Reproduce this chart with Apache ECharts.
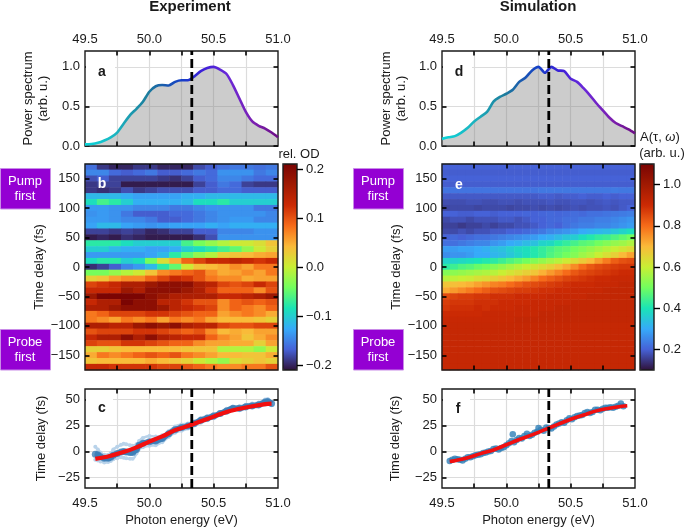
<!DOCTYPE html>
<html><head><meta charset="utf-8">
<script src="https://cdn.jsdelivr.net/npm/echarts@6/dist/echarts.min.js"></script>
<style>html,body{margin:0;padding:0;background:#fff}#c{width:685px;height:528px}</style></head>
<body><div id="c"></div>
<script>
const FONT = '"Liberation Sans", Arial, sans-serif';
const TURBO = ['#30123b','#4662d7','#36aaf9','#1ae4b6','#72fe5e','#c8ef34','#faba39','#f66b19','#cb2a04','#a01a02','#7a0403'];
const delays = [170,160,150,140,130,120,110,100,90,80,70,60,50,40,30,20,10,0,-10,-20,-30,-40,-50,-60,-70,-80,-90,-100,-110,-120,-130,-140,-150,-160,-170];
const expEnergies = [49.55,49.64,49.73,49.83,49.92,50.02,50.11,50.20,50.30,50.39,50.48,50.58,50.67,50.77,50.86,50.95];
const simEnergies = [49.53,49.59,49.66,49.72,49.78,49.84,49.91,49.97,50.03,50.09,50.16,50.22,50.28,50.34,50.41,50.47,50.53,50.59,50.66,50.72,50.78,50.84,50.91,50.97];
const expMap = [
[-.16,-.19,-.20,-.20,-.19,-.19,-.20,-.20,-.20,-.18,-.17,-.16,-.155,-.155,-.16,-.155],
[-.147,-.147,-.163,-.17,-.163,-.155,-.17,-.17,-.163,-.155,-.163,-.14,-.14,-.14,-.155,-.147],
[-.178,-.17,-.185,-.185,-.185,-.185,-.19,-.195,-.185,-.17,-.163,-.147,-.147,-.155,-.163,-.163],
[-.19,-.185,-.185,-.205,-.205,-.205,-.205,-.205,-.205,-.185,-.17,-.155,-.163,-.185,-.19,-.19],
[-.19,-.195,-.19,-.178,-.19,-.185,-.178,-.178,-.178,-.17,-.17,-.163,-.163,-.17,-.17,-.17],
[-.115,-.115,-.115,-.122,-.13,-.13,-.13,-.13,-.122,-.122,-.115,-.115,-.115,-.115,-.115,-.115],
[-.088,-.063,-.076,-.1,-.122,-.122,-.122,-.122,-.115,-.088,-.088,-.076,-.1,-.1,-.1,-.1],
[-.135,-.135,-.14,-.14,-.147,-.147,-.147,-.155,-.155,-.147,-.14,-.14,-.14,-.14,-.155,-.155],
[-.14,-.135,-.14,-.155,-.17,-.17,-.17,-.163,-.163,-.155,-.147,-.14,-.14,-.14,-.14,-.147],
[-.135,-.135,-.14,-.147,-.147,-.155,-.17,-.17,-.163,-.155,-.147,-.14,-.135,-.135,-.147,-.147],
[-.13,-.115,-.115,-.13,-.135,-.14,-.135,-.13,-.13,-.13,-.122,-.13,-.122,-.122,-.122,-.122],
[-.185,-.185,-.19,-.185,-.19,-.2,-.195,-.185,-.185,-.17,-.17,-.147,-.147,-.147,-.14,-.14],
[-.205,-.2,-.205,-.195,-.2,-.205,-.205,-.205,-.205,-.195,-.178,-.14,-.14,-.14,-.14,-.14],
[-.076,-.076,-.076,-.088,-.1,-.1,-.1,-.1,-.063,-.04,-.025,-.01,.005,.005,.015,.035],
[-.1,-.1,-.115,-.122,-.122,-.13,-.13,-.122,-.1,-.088,-.076,-.063,-.05,-.025,.005,.025],
[-.135,-.135,-.135,-.135,-.135,-.13,-.115,-.076,-.05,-.025,-.01,.025,.035,.042,.05,.055],
[-.088,-.076,-.076,-.1,-.088,-.04,.015,.05,.09,.11,.132,.132,.143,.132,.12,.132],
[-.195,-.185,-.17,-.147,-.135,-.115,-.076,-.05,.005,.035,.042,.05,.067,.055,.078,.078],
[-.04,-.04,-.025,-.01,.005,.035,.067,.078,.09,.1,.067,.05,.055,.067,.055,.078],
[.025,.035,.055,.067,.067,.09,.11,.132,.12,.1,.078,.067,.067,.05,.055,.055],
[.11,.12,.132,.155,.155,.173,.19,.19,.19,.155,.143,.11,.1,.11,.132,.11],
[.132,.132,.132,.173,.155,.19,.19,.19,.173,.155,.12,.09,.09,.09,.067,.1],
[.173,.21,.21,.21,.21,.19,.173,.155,.155,.155,.155,.132,.132,.143,.155,.173],
[.132,.155,.155,.21,.19,.19,.143,.143,.12,.1,.1,.067,.09,.1,.09,.1],
[.155,.155,.173,.19,.19,.19,.173,.143,.132,.12,.11,.067,.09,.078,.067,.09],
[.078,.09,.11,.11,.11,.12,.12,.11,.1,.09,.09,.055,.067,.078,.067,.05],
[.078,.067,.055,.078,.067,.078,.055,.078,.067,.078,.055,.042,.042,.042,.035,.025],
[.155,.155,.143,.143,.173,.19,.173,.19,.155,.143,.143,.11,.1,.1,.11,.11],
[.1,.11,.11,.11,.12,.12,.11,.1,.09,.1,.067,.042,.05,.042,.055,.055],
[.132,.155,.155,.19,.155,.19,.155,.143,.132,.132,.09,.067,.055,.035,.05,.067],
[.11,.1,.1,.12,.12,.11,.1,.09,.09,.067,.055,.055,.05,.05,.025,.055],
[.025,.025,.035,.042,.042,.042,.042,.042,.035,.035,.035,-.01,-.01,-.01,-.025,.005],
[.05,.078,.067,.078,.09,.1,.09,.1,.078,.067,.055,.042,.042,.035,.035,.05],
[.035,.042,.042,.042,.042,.05,.042,.035,.025,.005,-.01,-.025,.015,.025,.035,.025],
[.132,.132,.12,.12,.12,.12,.11,.11,.1,.09,.078,.067,.067,.078,.078,.1]
];
const simMap = [
[.2,.2,.2,.2,.2,.2,.2,.2,.2,.2,.2,.2,.2,.2,.2,.2,.2,.2,.2,.2,.2,.2,.2,.2],
[.195,.195,.195,.195,.195,.195,.195,.195,.195,.195,.195,.195,.195,.195,.195,.195,.195,.195,.195,.195,.195,.195,.195,.195],
[.2,.2,.2,.2,.2,.2,.2,.2,.2,.2,.2,.2,.2,.2,.2,.2,.2,.2,.2,.2,.2,.2,.2,.2],
[.195,.195,.195,.195,.195,.195,.195,.195,.195,.195,.195,.195,.195,.195,.195,.195,.195,.195,.195,.195,.195,.195,.195,.195],
[.225,.225,.225,.225,.225,.225,.225,.225,.225,.225,.225,.225,.23,.23,.23,.23,.23,.23,.23,.23,.23,.235,.23,.23],
[.19,.19,.19,.19,.19,.19,.19,.19,.19,.19,.19,.19,.195,.195,.19,.195,.195,.2,.195,.195,.2,.195,.2,.2],
[.175,.175,.175,.18,.18,.175,.175,.18,.18,.175,.18,.18,.18,.185,.18,.18,.185,.185,.18,.185,.19,.185,.19,.19],
[.165,.17,.17,.17,.165,.17,.17,.17,.165,.17,.17,.175,.17,.175,.17,.175,.18,.175,.18,.18,.185,.18,.19,.2],
[.2,.2,.195,.195,.2,.2,.195,.2,.2,.2,.205,.2,.205,.21,.205,.21,.215,.21,.22,.22,.225,.23,.235,.24],
[.17,.18,.18,.17,.18,.18,.18,.19,.19,.18,.19,.2,.2,.21,.21,.22,.22,.23,.23,.24,.24,.25,.26,.27],
[.16,.16,.15,.16,.16,.17,.16,.17,.17,.18,.18,.19,.2,.21,.2,.22,.23,.24,.24,.25,.25,.26,.27,.28],
[.17,.17,.18,.17,.18,.18,.19,.19,.2,.2,.21,.22,.23,.25,.26,.27,.28,.3,.31,.32,.33,.35,.37,.39],
[.2,.21,.2,.21,.22,.22,.23,.24,.25,.26,.27,.28,.3,.31,.33,.35,.36,.39,.41,.43,.44,.46,.48,.5],
[.22,.22,.23,.24,.25,.25,.27,.28,.3,.31,.33,.34,.37,.38,.41,.43,.45,.47,.48,.5,.52,.54,.55,.57],
[.28,.28,.29,.29,.3,.31,.33,.34,.36,.38,.39,.41,.43,.45,.47,.48,.5,.52,.54,.56,.58,.6,.62,.64],
[.26,.27,.27,.28,.3,.3,.32,.33,.35,.37,.39,.41,.43,.46,.48,.5,.52,.55,.57,.6,.63,.66,.7,.73],
[.37,.37,.38,.39,.4,.41,.42,.44,.46,.48,.5,.52,.54,.56,.58,.61,.64,.67,.7,.74,.78,.82,.84,.85],
[.42,.44,.46,.47,.49,.5,.52,.54,.56,.58,.6,.62,.64,.66,.69,.72,.76,.8,.83,.85,.86,.87,.88,.88],
[.52,.53,.54,.55,.56,.57,.58,.6,.62,.64,.66,.68,.71,.74,.77,.8,.83,.85,.86,.87,.88,.89,.9,.9],
[.58,.59,.6,.61,.63,.64,.66,.68,.7,.72,.74,.77,.8,.82,.84,.86,.87,.88,.89,.9,.9,.91,.91,.91],
[.68,.69,.7,.71,.73,.75,.77,.78,.8,.82,.84,.85,.86,.87,.88,.89,.9,.9,.9,.91,.91,.91,.92,.92],
[.72,.74,.76,.78,.8,.82,.84,.85,.86,.87,.87,.88,.89,.89,.9,.9,.91,.91,.91,.91,.92,.92,.92,.92],
[.85,.86,.87,.87,.88,.88,.89,.89,.89,.9,.9,.9,.9,.91,.91,.91,.91,.91,.92,.92,.92,.92,.92,.92],
[.87,.88,.88,.88,.89,.89,.89,.9,.9,.9,.9,.91,.91,.91,.91,.91,.92,.92,.92,.92,.92,.92,.92,.92],
[.88,.89,.89,.89,.9,.89,.9,.9,.9,.91,.91,.91,.91,.91,.92,.92,.92,.92,.92,.92,.92,.92,.92,.92],
[.9,.9,.9,.9,.9,.91,.91,.91,.91,.91,.91,.91,.92,.92,.92,.92,.92,.92,.92,.92,.92,.92,.92,.92],
[.91,.91,.91,.91,.91,.91,.91,.91,.91,.92,.92,.92,.92,.92,.92,.92,.92,.92,.92,.92,.92,.92,.92,.92],
[.915,.915,.915,.915,.915,.915,.915,.915,.915,.915,.915,.915,.915,.915,.915,.915,.915,.915,.915,.915,.915,.915,.915,.915],
[.915,.915,.915,.915,.915,.915,.915,.915,.915,.915,.915,.915,.915,.915,.915,.915,.915,.915,.915,.915,.915,.915,.915,.915],
[.915,.915,.915,.915,.915,.915,.915,.915,.915,.915,.915,.915,.915,.915,.915,.915,.915,.915,.915,.915,.915,.915,.915,.915],
[.915,.915,.915,.915,.915,.915,.915,.915,.915,.915,.915,.915,.915,.915,.915,.915,.915,.915,.915,.915,.915,.915,.915,.915],
[.915,.915,.915,.915,.915,.915,.915,.915,.915,.915,.915,.915,.915,.915,.915,.915,.915,.915,.915,.915,.915,.915,.915,.915],
[.915,.915,.915,.915,.915,.915,.915,.915,.915,.915,.915,.915,.915,.915,.915,.915,.915,.915,.915,.915,.915,.915,.915,.915],
[.915,.915,.915,.915,.915,.915,.915,.915,.915,.915,.915,.915,.915,.915,.915,.915,.915,.915,.915,.915,.915,.915,.915,.915],
[.915,.915,.915,.915,.915,.915,.915,.915,.915,.915,.915,.915,.915,.915,.915,.915,.915,.915,.915,.915,.915,.915,.915,.915]
];
const specX = [49.5,49.55,49.6,49.65,49.7,49.75,49.8,49.85,49.9,49.95,50,50.05,50.1,50.15,50.2,50.25,50.3,50.35,50.4,50.45,50.5,50.55,50.6,50.65,50.7,50.75,50.8,50.85,50.9,50.95,51];
const expPower = [.02,.025,.04,.07,.11,.17,.28,.39,.47,.56,.685,.755,.77,.765,.81,.83,.83,.88,.945,.985,1,.965,.91,.77,.6,.43,.31,.255,.22,.17,.11];
const simPowerX = [49.5,49.55,49.6,49.65,49.7,49.75,49.8,49.85,49.9,49.95,50,50.05,50.1,50.15,50.2,50.25,50.3,50.35,50.4,50.45,50.5,50.55,50.6,50.65,50.7,50.75,50.8,50.85,50.9,50.95,51];
const simPower = [.09,.11,.125,.17,.23,.31,.37,.43,.56,.62,.66,.71,.81,.865,.955,1,.925,1,.955,.945,.85,.81,.73,.64,.54,.45,.36,.29,.25,.21,.16];
const cX = [49.58,49.6,49.62,49.65,49.68,49.7,49.72,49.75,49.78,49.8,49.82,49.85,49.87,49.9,49.92,49.95,50,50.05,50.1,50.15,50.2,50.25,50.3,50.35,50.4,50.45,50.5,50.55,50.6,50.65,50.7,50.75,50.8,50.85,50.9,50.92,50.95];
const cMean = [-2.5,-3,-5,-6.5,-6.5,-5.5,-3.5,-2,-.5,0,-.5,-1,-1,2,6,8,9.5,10,12.5,17,21,23,24.5,27,30,32,34,36.5,39,41.5,41.5,43,44,45,47.5,48,46];
const cUpper = [4.5,2,-1,-3,-3,-1.5,2,4.5,6.5,7.5,7,6,5.5,7,10,13,15,14.5,15.5,19.5,24,26,27,29,32,34,36,38,41,43,43.5,45,46,47,50,50.5,47.5];
const cLower = [-8,-8.5,-9.5,-10.5,-10,-9,-7.5,-6.5,-5.5,-6,-6.5,-7,-7,-2,2.5,4,5.5,6,9,14,18,20,22,25,27.5,30,32,35,37,39.5,39.5,41,42,43,45,45.5,44.5];
const cFitX = [49.58,49.65,49.7,49.8,49.9,50,50.1,50.2,50.3,50.4,50.5,50.6,50.7,50.8,50.9,50.95];
const cFit = [-7,-5.5,-4,-.5,4,9.5,14.5,20.5,24.5,29,33.5,38,41,43.5,45.5,46];
const fX = [49.56,49.58,49.6,49.62,49.64,49.66,49.68,49.7,49.72,49.74,49.76,49.78,49.8,49.82,49.84,49.86,49.88,49.9,49.92,49.94,49.96,49.98,50,50.02,50.04,50.05,50.06,50.08,50.1,50.12,50.14,50.16,50.18,50.2,50.22,50.24,50.25,50.27,50.29,50.31,50.33,50.35,50.37,50.39,50.41,50.43,50.45,50.47,50.49,50.51,50.53,50.55,50.57,50.59,50.61,50.63,50.65,50.67,50.69,50.71,50.73,50.75,50.77,50.79,50.81,50.83,50.85,50.87,50.89,50.91];
const fY = [-9,-8,-7,-7.5,-8,-8.5,-7,-5.5,-5.5,-4.5,-3.5,-3,-2.5,-1.5,-1,0,.5,2.5,3,2,3.5,4,6,8,10,16.5,9,11,13,12.5,15,17,15,16,18,19,22.5,21,20,23,22.5,22,24,26,27,28,27.5,30,32,31,33,34,34.5,35,37,38,37,38,40,40,39.5,41,42,42,42.5,42,43,44,46,43.5];
const fFitX = [49.56,49.6,49.7,49.8,49.9,50,50.1,50.2,50.3,50.4,50.5,50.6,50.7,50.8,50.9,50.94];
const fFit = [-9.5,-8.8,-6,-2,1.5,6.5,11.5,16,21,26,31,35,39,41.5,43.5,44];
const pumpEnergy = 50.33;
const xTickVals = [49.75,50,50.25,50.5,50.75];
const xLabelVals = [49.5,50,50.5,51];
const specTicks = [0,.5,1];
const delayTicks = [-150,-100,-50,0,50,100,150];
const fitTicks = [-25,0,25,50];
const expBarTicks = [-.2,-.1,0,.1,.2];
const simBarTicks = [.2,.4,.6,.8,1];

const zip = (a,b)=>a.map((v,i)=>[v,b[i]]);
const minus = s=>String(s).replace('-','\u2212');
const TXT = '#1a1a1a';
const grids=[],xAxes=[],yAxes=[],series=[];
const tick = (len,inside)=>({show:true,inside,length:len,lineStyle:{color:'#000',width:1.6}});
function axis(o){return Object.assign({type:'value',axisLine:{show:false,onZero:false},splitLine:{show:false},axisLabel:{show:false},z:o.z||0},o);}
function panel(rect,xr,yr,o){
  const g=grids.length;
  grids.push({left:rect[0],top:rect[1],width:rect[2],height:rect[3],show:true,borderColor:'#1a1a1a',borderWidth:1.4,backgroundColor:'transparent',z:o.top?6:3,containLabel:false});
  const xi=xAxes.length, yi=yAxes.length;
  const split={show:!!o.split,lineStyle:{color:'#dcdcdc',width:1.2}};
  const z=o.top?6:5;
  xAxes.push(axis({gridIndex:g,position:o.xSide,min:xr[0],max:xr[1],z:0,splitLine:split,
    axisTick:{show:false},
    axisLabel:o.xLabels?{show:true,customValues:xLabelVals,margin:o.xSide==='top'?5:9,fontSize:13,fontFamily:FONT,color:TXT,formatter:v=>v.toFixed(1)}:{show:false},
    name:o.xName,nameLocation:'middle',nameGap:26,nameTextStyle:{fontSize:13,fontFamily:FONT,color:TXT}}));
  // tick marks on the primary side use the same scale but sit above the filled area
  xAxes[xi].splitLine.show=!!o.split;
  xAxes[xi].axisTick=Object.assign(tick(4.5,true),{customValues:xTickVals});
  xAxes[xi].z=o.top?6:0;
  xAxes.push(axis({gridIndex:g,position:o.xSide==='top'?'bottom':'top',min:xr[0],max:xr[1],z,axisTick:Object.assign(tick(4.5,true),{customValues:xTickVals})}));
  yAxes.push(axis({gridIndex:g,position:'left',min:yr[0],max:yr[1],z:o.top?6:0,splitLine:split,
    axisTick:Object.assign(tick(4.5,true),{customValues:o.yTicks}),
    axisLabel:{show:true,customValues:o.yTicks,margin:5,fontSize:13,fontFamily:FONT,color:TXT,formatter:o.yFmt},
    name:o.yName,nameLocation:'middle',nameRotate:90,nameGap:o.yGap,nameTextStyle:{fontSize:13,fontFamily:FONT,color:TXT,lineHeight:15}}));
  yAxes.push(axis({gridIndex:g,position:'right',min:yr[0],max:yr[1],z,axisTick:Object.assign(tick(4.5,true),{customValues:o.yTicks})}));
  return {g,xi,yi};
}
const GRAD=()=>({type:'linear',x:0,y:0,x2:1,y2:0,colorStops:[
 {offset:0,color:'#08d8dc'},{offset:.17,color:'#1cb4c0'},{offset:.33,color:'#1c7c9c'},{offset:.42,color:'#1a58b0'},{offset:.5,color:'#1440c8'},{offset:.6,color:'#3a20d8'},{offset:.73,color:'#6a28d8'},{offset:.87,color:'#7c20b0'},{offset:1,color:'#6a0c80'}]});
const dash=(p,yr)=>({type:'line',xAxisIndex:p.xi,yAxisIndex:p.yi,data:[[pumpEnergy,yr[0]],[pumpEnergy,yr[1]]],symbol:'none',z:6,silent:true,
  lineStyle:{color:'#000',width:2.8,type:[9,4]}});

function specPanel(left,x,y,yGap){
  const yr=[0,1.2];
  const p=panel([left,51,193,95],[49.5,51],yr,{xSide:'top',xLabels:true,split:true,yTicks:specTicks,yFmt:v=>v.toFixed(1),
    yName:'Power spectrum\n(arb. u.)',yGap});
  series.push({type:'line',xAxisIndex:p.xi,yAxisIndex:p.yi,data:zip(x,y),smooth:.25,symbol:'none',z:4,
    lineStyle:{width:2.6,color:GRAD()},areaStyle:{color:'rgba(128,128,128,.4)',opacity:1}});
  series.push(dash(p,yr));
}
function fitPanel(left,yGap){
  return panel([left,389,193,103],[49.5,51],[-35,60],{xSide:'bottom',xLabels:true,split:true,yTicks:fitTicks,yFmt:minus,
    yName:'Time delay (fs)',yGap,xName:'Photon energy (eV)'});
}
function heatPanel(left,xs,map,range,yGap,barLeft,barTicks,barFmt){
  const p=panel([left,164,193,206],[49.5,51],[-175,175],{xSide:'bottom',xLabels:false,yTicks:delayTicks,yFmt:minus,top:true,yName:'Time delay (fs)',yGap});
  const cx=xAxes.length, cy=yAxes.length;
  xAxes.push({type:'category',gridIndex:p.g,show:false,data:xs});
  yAxes.push({type:'category',gridIndex:p.g,show:false,data:delays.slice().reverse()});
  const data=[];
  map.forEach((row,r)=>row.forEach((v,c)=>data.push([c,map.length-1-r,v])));
  const si=series.length;
  series.push({type:'heatmap',xAxisIndex:cx,yAxisIndex:cy,data,progressive:0,animation:false,silent:true,itemStyle:{borderWidth:0},emphasis:{disabled:true}});
  const g=grids.length;
  grids.push({left:barLeft,top:164,width:14,height:206,show:true,borderColor:'#1a1a1a',borderWidth:1.4,backgroundColor:'transparent',z:6});
  xAxes.push(axis({gridIndex:g,min:0,max:1,show:false}));
  yAxes.push(axis({gridIndex:g,position:'right',min:range[0],max:range[1],z:6,
    axisTick:{show:true,inside:false,length:6,lineStyle:{color:'#000',width:1.4},customValues:barTicks},
    axisLabel:{show:true,customValues:barTicks,margin:9,fontSize:13,fontFamily:FONT,color:TXT,formatter:barFmt}}));
  return {seriesIndex:si,range,barLeft};
}
specPanel(85,specX,expPower,34);
specPanel(442,simPowerX,simPower,33);
const hE=heatPanel(85,expEnergies,expMap,[-.21,.211],29,283,expBarTicks,v=>minus(v.toFixed(1)));
const hS=heatPanel(442,simEnergies,simMap,[.1,1.1],34,640,simBarTicks,v=>v.toFixed(1));

const pc=fitPanel(85,36);
const bandStyle={type:'line',xAxisIndex:pc.xi,yAxisIndex:pc.yi,smooth:.4,symbol:'circle',symbolSize:4,z:3,
  itemStyle:{color:'#b9d3ea'},lineStyle:{color:'#b9d3ea',width:2.5}};
series.push(Object.assign({},bandStyle,{data:zip(cX,cUpper)}));
series.push(Object.assign({},bandStyle,{data:zip(cX,cLower)}));
series.push({type:'scatter',xAxisIndex:pc.xi,yAxisIndex:pc.yi,data:zip(cX,cMean),symbolSize:7,z:4,itemStyle:{color:'#3d7fb8'}});
series.push({type:'line',xAxisIndex:pc.xi,yAxisIndex:pc.yi,data:zip(cX,cMean),smooth:.4,symbol:'none',z:4,lineStyle:{color:'#3d7fb8',width:5.5}});
series.push({type:'line',xAxisIndex:pc.xi,yAxisIndex:pc.yi,data:zip(cFitX,cFit),smooth:.4,symbol:'none',z:5,lineStyle:{color:'#f20f0f',width:4.2}});
series.push(dash(pc,[-35,60]));

const pf=fitPanel(442,39);
series.push({type:'scatter',xAxisIndex:pf.xi,yAxisIndex:pf.yi,data:zip(fX,fY),symbolSize:6.5,z:4,itemStyle:{color:'#2f80b8'}});
series.push({type:'line',xAxisIndex:pf.xi,yAxisIndex:pf.yi,data:zip(fFitX,fFit),smooth:.4,symbol:'none',z:5,lineStyle:{color:'#f20f0f',width:3.6}});
series.push(dash(pf,[-35,60]));

const vm=h=>({type:'continuous',seriesIndex:h.seriesIndex,min:h.range[0],max:h.range[1],calculable:false,hoverLink:false,
  left:h.barLeft,top:164,itemWidth:14,itemHeight:206,padding:0,text:null,inRange:{color:TURBO},outOfRange:{color:TURBO},z:4});

const txt=(x,y,text,font,fill,extra)=>({type:'text',x,y,z:10,silent:true,style:Object.assign({text,fill:fill||TXT,font:font||('13px '+FONT),align:'center',verticalAlign:'middle',lineHeight:15},extra||{})});
const box=(x,y,w,h)=>({type:'rect',shape:{x,y,width:w,height:h},z:1,silent:true,style:{fill:'#fff'}});
const purple=(x,y)=>({type:'rect',shape:{x:x+.5,y:y+.5,width:50,height:40.5},z:10,silent:true,style:{fill:'#9400d3',stroke:'#c98be8',lineWidth:1}});
const graphic=[
 txt(190,7,'Experiment','bold 15px '+FONT),
 txt(538,7,'Simulation','bold 15px '+FONT),
 box(86,60,29,22),box(443,60,29,22),box(86,392,27,24),box(443,392,27,24),
 txt(102,72,'a','bold 14px '+FONT),txt(459,72,'d','bold 14px '+FONT),
 txt(102,184,'b','bold 14px '+FONT,'#fff'),txt(459,185,'e','bold 14px '+FONT,'#fff'),
 txt(102,408,'c','bold 14px '+FONT),txt(458,409,'f','bold 14px '+FONT),
 purple(0,168),purple(353,168),purple(0,329),purple(353,329),
 txt(25,188.5,'Pump\nfirst',null,'#fff'),txt(378,188.5,'Pump\nfirst',null,'#fff'),
 txt(25,349.5,'Probe\nfirst',null,'#fff'),txt(378,349.5,'Probe\nfirst',null,'#fff'),
 txt(299,154,'rel. OD'),
 {type:'text',x:640,y:137,z:10,silent:true,style:{text:'A(\u03c4, {i|\u03c9})',fill:TXT,font:'13px '+FONT,align:'left',verticalAlign:'middle',rich:{i:{font:'italic 13px '+FONT,fill:TXT}}}},
 txt(662,153,'(arb. u.)')
];
const chart=echarts.init(document.getElementById('c'),null,{renderer:'canvas'});
chart.setOption({animation:false,backgroundColor:'#fff',textStyle:{fontFamily:FONT},
  grid:grids,xAxis:xAxes,yAxis:yAxes,series,visualMap:[vm(hE),vm(hS)],graphic});
</script></body></html>
